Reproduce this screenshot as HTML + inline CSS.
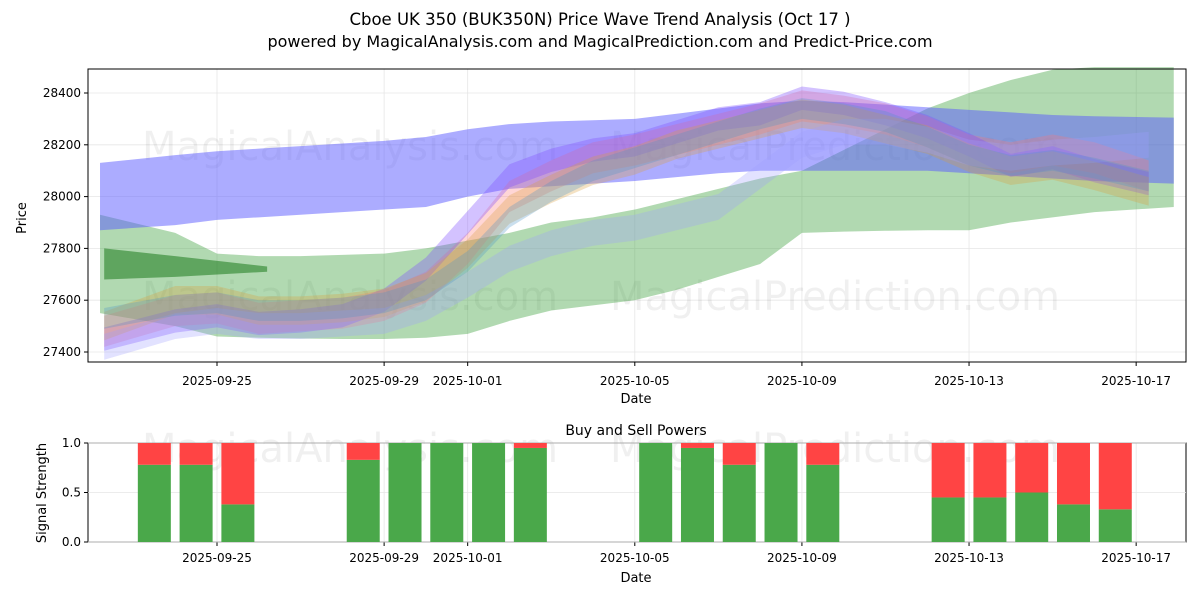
<!DOCTYPE html>
<html><head><meta charset="utf-8"><style>
body{margin:0;background:#fff;font-family:"Liberation Sans","DejaVu Sans",sans-serif}
svg text{font-family:"DejaVu Sans","Liberation Sans",sans-serif}
</style></head><body>
<svg id="c" width="1200" height="600" xmlns="http://www.w3.org/2000/svg">
<rect width="1200" height="600" fill="#fff"/>
<text x="600" y="25" text-anchor="middle" font-size="16.5">Cboe UK 350 (BUK350N) Price Wave Trend Analysis (Oct 17 )</text>
<text x="600" y="47" text-anchor="middle" font-size="16">powered by MagicalAnalysis.com and MagicalPrediction.com and Predict-Price.com</text>
<g id="topPanel"></g>
<g id="botPanel"></g>
</svg>
<script>
const tickLabels=["2025-09-25","2025-09-29","2025-10-01","2025-10-05","2025-10-09","2025-10-13","2025-10-17"];
const tickDays=[0,4,6,10,14,18,22];
const yTicks=[27400,27600,27800,28000,28200,28400];
const days=[-2.7,-1,0,1,2,3,4,5,6,7,8,9,10,11,12,13,14,15,16,17,18,19,20,21,22.3];
const wideDays=[-2.8,-1,0,1,2,3,4,5,6,7,8,9,10,11,12,13,14,15,16,17,18,19,20,21,22.9];
const midA=[27480,27560,27570,27530,27540,27550,27580,27650,27800,28000,28080,28150,28180,28220,28260,28300,28350,28330,28300,28250,28180,28150,28180,28150,28080];
const midB=[27450,27520,27540,27510,27520,27540,27600,27720,27900,28080,28140,28180,28200,28250,28300,28320,28380,28360,28320,28270,28200,28120,28150,28100,28050];
const midC=[27500,27600,27600,27560,27560,27570,27590,27650,27780,27950,28030,28100,28140,28200,28240,28280,28320,28300,28260,28220,28150,28100,28120,28080,28020];
const midD=[27420,27500,27520,27500,27500,27510,27520,27570,27660,27760,27820,27860,27880,27920,27960,28080,28200,28250,28250,28220,28170,28150,28170,28180,28200];
const midE=[27530,27580,27590,27560,27560,27570,27590,27640,27750,27920,28020,28100,28150,28200,28250,28300,28340,28320,28290,28230,28160,28120,28140,28110,28060];
const blueTop=[28130,28160,28175,28185,28195,28205,28215,28230,28260,28280,28290,28295,28300,28320,28340,28360,28370,28365,28355,28345,28335,28325,28315,28310,28305];
const blueBot=[27870,27890,27910,27920,27930,27940,27950,27960,28000,28030,28040,28050,28060,28075,28090,28100,28100,28100,28100,28100,28090,28080,28070,28060,28050];
const greenTop=[27930,27860,27780,27770,27770,27775,27780,27800,27830,27860,27900,27920,27950,27990,28030,28070,28100,28180,28260,28340,28400,28450,28490,28500,28500];
const greenBot=[27550,27500,27460,27455,27452,27450,27450,27455,27470,27520,27560,27580,27600,27640,27690,27740,27860,27865,27868,27870,27870,27900,27920,27940,27960];
const dkGreenDays=[-2.7,-1,1.2];
const dkGreenTop=[27800,27770,27730];
const dkGreenBot=[27680,27690,27710];
const bandMids=[midA,midB,midC,midD,midE];
const bandHalf=[60,45,55,50,40];
const bandColors=["rgba(255,120,120,0.3)","rgba(130,80,255,0.35)","rgba(220,160,60,0.3)","rgba(160,160,255,0.3)","rgba(80,150,200,0.3)"];
const barDays=[-1.5,-0.5,0.5,3.5,4.5,5.5,6.5,7.5,10.5,11.5,12.5,13.5,14.5,17.5,18.5,19.5,20.5,21.5];
const buyVals=[0.78,0.78,0.38,0.83,1,1,1,0.95,1,0.95,0.78,1,0.78,0.45,0.45,0.5,0.38,0.33];

const NS="http://www.w3.org/2000/svg";
const X0=88,X1=1186,T0=69,T1=362,B0=443,B1=542;
const xs=d=>217+d*41.78;
const ys=v=>352-(v-27400)*0.259;
const yb=v=>B1-v*(B1-B0);
function mk(p,t,a){const e=document.createElementNS(NS,t);for(const k in a)e.setAttribute(k,a[k]);p.appendChild(e);return e;}
const topG=document.getElementById('topPanel'),botG=document.getElementById('botPanel');
tickDays.forEach(d=>{[[T0,T1],[B0,B1]].forEach(r=>{const l=mk(topG,'line',{x1:xs(d),x2:xs(d),y1:r[0],y2:r[1],stroke:'#e6e6e6','stroke-width':0.8});

});});
yTicks.forEach(v=>{const l=mk(topG,'line',{x1:X0,x2:X1,y1:ys(v),y2:ys(v),stroke:'#e6e6e6','stroke-width':0.8});

});
[0,0.5,1].forEach(v=>{const l=mk(botG,'line',{x1:X0,x2:X1,y1:yb(v),y2:yb(v),stroke:'#e6e6e6','stroke-width':0.8});

});
[[350,160],[835,160],[350,310],[835,310],[350,462],[835,462]].forEach(p=>{const t=mk(topG,'text',{x:p[0],y:p[1],'text-anchor':'middle','font-size':40,fill:'rgba(0,0,0,0.06)'});t.textContent=p[0]<600?'MagicalAnalysis.com':'MagicalPrediction.com';

});
function band(dd,upper,lower,fill,name){let pts=dd.map((d,i)=>xs(d)+','+ys(upper[i]));for(let i=dd.length-1;i>=0;i--)pts.push(xs(dd[i])+','+ys(lower[i]));
const p=mk(topG,'polygon',{points:pts.join(' '),fill:fill});

}
band(wideDays,greenTop,greenBot,'rgba(60,160,60,0.4)','green-range-band');
band(dkGreenDays,dkGreenTop,dkGreenBot,'rgba(40,130,40,0.6)','dark-green-band');
band(wideDays,blueTop,blueBot,'rgba(90,90,255,0.5)','blue-range-band');
bandMids.forEach((m,j)=>band(days,m.map(v=>v+bandHalf[j]),m.map(v=>v-bandHalf[j]),bandColors[j],'wave-band'));
[[T0,T1],[B0,B1]].forEach(r=>{const f=mk(topG,'rect',{x:X0,y:r[0],width:X1-X0,height:r[1]-r[0],fill:'none',stroke:'#000','stroke-width':1});

});
tickDays.forEach((d,i)=>{[[T1,385],[B1,562]].forEach(r=>{mk(topG,'line',{x1:xs(d),x2:xs(d),y1:r[0],y2:r[0]+4,stroke:'#000'});
const t=mk(topG,'text',{x:xs(d),y:r[1],'text-anchor':'middle','font-size':12});t.textContent=tickLabels[i];

});});
yTicks.forEach(v=>{mk(topG,'line',{x1:X0-4,x2:X0,y1:ys(v),y2:ys(v),stroke:'#000'});
const t=mk(topG,'text',{x:X0-7,y:ys(v)+4,'text-anchor':'end','font-size':12});t.textContent=v;

});
['0.0','0.5','1.0'].forEach(s=>{const v=+s;mk(botG,'line',{x1:X0-4,x2:X0,y1:yb(v),y2:yb(v),stroke:'#000'});
const t=mk(botG,'text',{x:X0-7,y:yb(v)+4,'text-anchor':'end','font-size':12});t.textContent=s;

});
barDays.forEach((d,i)=>{const w=33,x=xs(d)-w/2;
const g=mk(botG,'rect',{x:x,y:yb(buyVals[i]),width:w,height:yb(0)-yb(buyVals[i]),fill:'#4aa84a'});


const r=mk(botG,'rect',{x:x,y:yb(1),width:w,height:yb(buyVals[i])-yb(1),fill:'#ff4444'});

});
function lab(p,x,y,s,txt,rot,name){const t=mk(p,'text',{x:x,y:y,'text-anchor':'middle','font-size':s});if(rot)t.setAttribute('transform',`rotate(-90 ${x} ${y})`);t.textContent=txt;

}
lab(topG,636,403,13,'Date',0,'x-axis-title');
lab(topG,26,218,13,'Price',1,'y-axis-title');
lab(botG,636,582,13,'Date',0,'x-axis-title');
lab(botG,46,493,13,'Signal Strength',1,'y-axis-title');
lab(botG,636,435,14,'Buy and Sell Powers',0,'power-panel-title');
</script>
</body></html>
